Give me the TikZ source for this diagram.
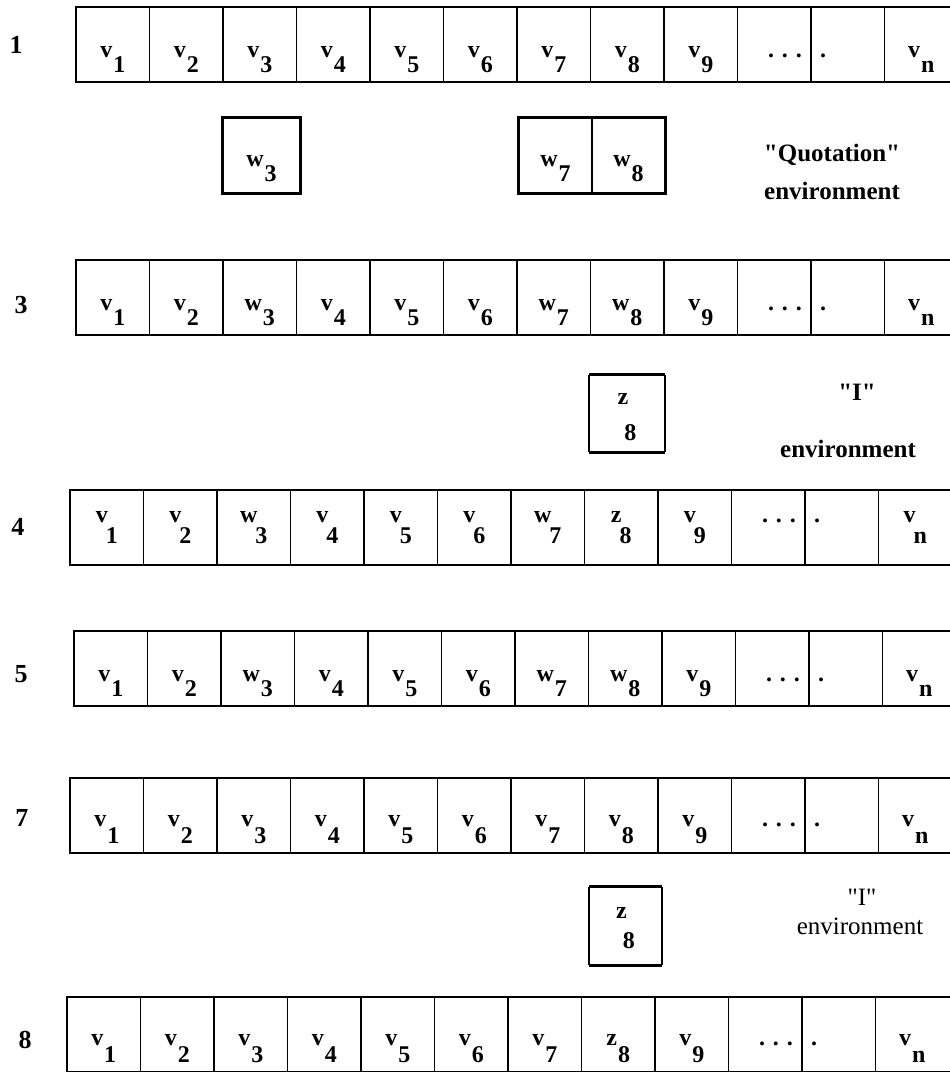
\documentclass[tikz,border=0pt]{standalone}
\usepackage{fontspec}
\setmainfont{Liberation Serif}[Ligatures=TeXOff]
\tikzset{
  outer/.style={line width=2.8pt, line join=miter},
  inner/.style={line width=1.6pt},
  boxside/.style={line width=1.8pt},
  cell/.style={anchor=base, inner sep=0pt, font=\fontsize{24}{28}\selectfont\bfseries},
  rowlab/.style={inner sep=0pt, font=\fontsize{26}{30}\selectfont\bfseries},
  envlab/.style={inner sep=0pt, font=\fontsize{25}{30}\selectfont\bfseries},
  envlabr/.style={inner sep=0pt, font=\fontsize{25}{30}\selectfont},
  sbox/.style={inner sep=0pt, minimum height=75pt},
}
\def\subdrop{15pt}
\def\subkern{1pt}
\newcommand{\cvx}[2]{#1\kern\subkern\raisebox{-\subdrop}{#2}}
% #1 id, #2 left, #3 top, #4 nine items, #5 text baseline, #6 subscript drop, #7 kern
\newcommand{\drawrow}[7]{%
\begin{scope}[shift={(#2,#3)}]
  \def\subdrop{#6}\def\subkern{#7}%
  \draw[outer] (920,0) -- (0,0) -- (0,75) -- (920,75);
  \foreach \k in {1,...,11} \draw[inner] ({\k*73.5},0) -- ({\k*73.5},75);
  \foreach \lt/\st [count=\k] in {#4}
    \node[cell] (#1c\k) at ({(\k-0.5)*73.5},#5) {\cvx{\lt}{\st}};
  \node[cell] (#1dots) at (709,#5) {.\,\,.\,\,.};
  \node[cell] (#1dot) at (747,#5) {.};
  \node[cell] (#1cn) at ({11.5*73.5},#5) {\cvx{v}{n}};
\end{scope}}

\begin{document}
\begin{tikzpicture}[x=1pt,y=-1pt]
\useasboundingbox (0,0) rectangle (950,1072);
\clip (0,0) rectangle (950,1072);

% ---------- row 1
\node[rowlab] (lab1) at (16,45) {1};
\drawrow{ra}{76}{7}{v/1,v/2,v/3,v/4,v/5,v/6,v/7,v/8,v/9}{50}{15pt}{1pt}

% Quotation environment
\node[sbox, minimum width=77pt] (bw3) at (261.5,155.5) {};
\draw[outer] (bw3.north west) rectangle (bw3.south east);
\node[cell] (tw3) at ([yshift=-49pt]bw3.north) {\cvx{w}{3}};
\node[sbox, minimum width=73pt] (bw7) at (555.5,155.5) {};
\node[sbox, minimum width=73pt] (bw8) at (628.5,155.5) {};
\draw[outer] (bw7.north west) rectangle (bw8.south east);
\draw[inner] (bw7.north east) -- (bw7.south east);
\node[cell] (tw7) at ([yshift=-49pt]bw7.north) {\cvx{w}{7}};
\node[cell] (tw8) at ([yshift=-49pt]bw8.north) {\cvx{w}{8}};
\node[envlab] (qa) at (832,155) {"Quotation"};
\node[envlab] (qb) at (832,191) {environment};

% ---------- row 3
\node[rowlab] (lab3) at (21,305) {3};
\drawrow{rb}{76}{260}{v/1,v/2,w/3,v/4,v/5,v/6,w/7,w/8,v/9}{50}{15pt}{1pt}

% I environment (first)
\node[sbox, minimum width=76pt, minimum height=77pt] (bz1) at (627,413.5) {};
\draw[outer] (bz1.north west) -- (bz1.north east) (bz1.south west) -- (bz1.south east);
\draw[boxside] (bz1.north west) -- (bz1.south west) (bz1.north east) -- (bz1.south east);
{\def\subdrop{36pt}\def\subkern{-4pt}
\node[cell] (tz1) at ([yshift=-30pt]bz1.north) {\cvx{z}{8}};}
\node[envlab] (ia) at (857,392) {"I"};
\node[envlab] (ib) at (848,449) {environment};

% ---------- row 4
\node[rowlab] (lab4) at (18,527) {4};
\drawrow{rc}{70}{490}{v/1,v/2,w/3,v/4,v/5,v/6,w/7,z/8,v/9}{32}{21pt}{-2pt}

% ---------- row 5
\node[rowlab] (lab5) at (21,674) {5};
\drawrow{rd}{74}{631}{v/1,v/2,w/3,v/4,v/5,v/6,w/7,w/8,v/9}{50}{15pt}{1pt}

% ---------- row 7
\node[rowlab] (lab7) at (22,818) {7};
\drawrow{re}{70}{778}{v/1,v/2,v/3,v/4,v/5,v/6,v/7,v/8,v/9}{48}{17pt}{1pt}

% I environment (second)
\node[sbox, minimum width=73pt, minimum height=78pt] (bz2) at (625.5,926) {};
\draw[outer] (bz2.north west) -- (bz2.north east) (bz2.south west) -- (bz2.south east);
\draw[boxside] (bz2.north west) -- (bz2.south west) (bz2.north east) -- (bz2.south east);
{\def\subdrop{30pt}\def\subkern{-4pt}
\node[cell] (tz2) at ([yshift=-32pt]bz2.north) {\cvx{z}{8}};}
\node[envlabr] (ja) at (862,897) {"I"};
\node[envlabr] (jb) at (860,926) {environment};

% ---------- row 8
\node[rowlab] (lab8) at (25,1040) {8};
\drawrow{rf}{67}{997}{v/1,v/2,v/3,v/4,v/5,v/6,v/7,z/8,v/9}{48}{17pt}{1pt}
\end{tikzpicture}
\end{document}
